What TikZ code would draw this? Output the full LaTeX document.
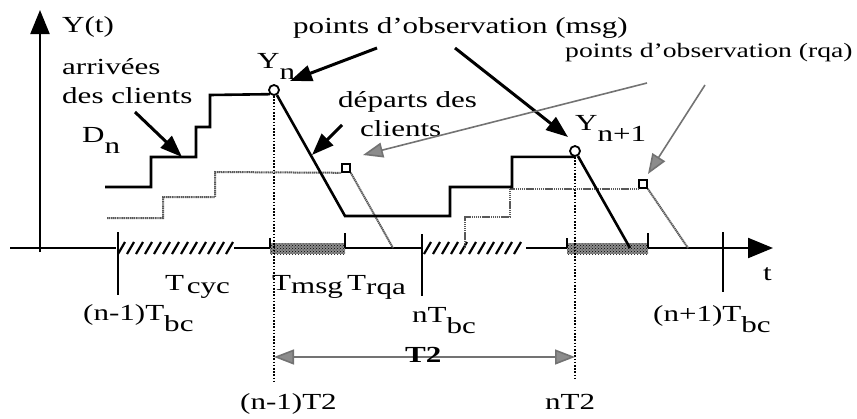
\documentclass[tikz,border=0pt]{standalone}
\usepackage{graphicx}
\usepackage{fontspec}
\setmainfont{Liberation Serif}
\usetikzlibrary{arrows.meta,patterns}
\newcommand\lowr[1]{\raisebox{-11pt}{#1}}
\newcommand\st[1]{\scalebox{1.35}[1]{#1}}
\begin{document}
\begin{tikzpicture}[x=1pt,y=-1pt,
  lbl/.style={inner sep=0pt, anchor=base west, font=\fontsize{23}{29}\selectfont},
  stair/.style={line width=2.6pt, line join=miter},
  gstair/.style={line width=2pt, draw=black!65, dash pattern=on 1.3pt off 0.6pt},
  vdot/.style={line width=1.8pt, dash pattern=on 1.6pt off 1.6pt},
  axis/.style={line width=2.2pt},
  tick/.style={line width=1.8pt},
  bigarrow/.style={line width=3pt, -{Triangle[length=22pt,width=16pt]}},
  garrow/.style={line width=1.6pt, draw=black!55, -{Triangle[length=20pt,width=15pt,fill=black!45]}},
  hatch/.style={line width=2.2pt},
  checker/.style={pattern=crosshatch dots, pattern color=black}
]
\useasboundingbox (0,0) rectangle (857,418);

% axes
\coordinate (yb) at (40,252);
\coordinate (yt) at (40,10);
\coordinate (xl) at (10,248);
\coordinate (xr) at (773,248);
\draw[axis, -{Triangle[length=24pt,width=19pt]}] (yb) -- (yt);
\draw[axis, -{Triangle[length=25pt,width=20pt]}] (xl) -- (xr);

% hatched regions
\fill[white] (116,241) rectangle (234,255);
\foreach \x in {118,127,...,226} \draw[hatch] (\x,254) -- (\x+7,242);
\fill[white] (422,241) rectangle (526,255);
\foreach \x in {424,433,...,516} \draw[hatch] (\x,254) -- (\x+7,242);

% checkered regions
\fill[black!45] (270,243) rectangle (345,254);
\fill[checker] (270,243) rectangle (345,254);
\fill[black!45] (567,243) rectangle (648,254);
\fill[checker] (567,243) rectangle (648,254);

% ticks
\draw[tick] (118,232) -- (118,295);
\draw[tick] (422,234) -- (422,296);
\draw[tick] (723,232) -- (723,292);
\draw[line width=1.2pt] (345,233) -- (345,248);
\draw[line width=1.2pt] (648,233) -- (648,248);
\draw[line width=1.2pt] (270,238) -- (270,248);
\draw[line width=1.2pt] (567,238) -- (567,248);

% observation markers
\node[circle, draw, line width=1.8pt, minimum size=10pt, inner sep=0pt] (c1) at (274,90) {};
\node[circle, draw, line width=1.8pt, minimum size=10pt, inner sep=0pt] (c2) at (575,151) {};
\node[draw, line width=1.6pt, minimum size=8pt, inner sep=0pt] (s1) at (346,168) {};
\node[draw, line width=1.6pt, minimum size=8pt, inner sep=0pt] (s2) at (643,184) {};

% vertical dotted lines
\coordinate (v1) at (274,382);
\coordinate (v2) at (575,380);
\draw[vdot] (c1.south) -- (v1);
\draw[vdot] (c2.south) -- (v2);

% gray staircase (departures / rqa)
\coordinate (d1) at (393,248);
\coordinate (d2) at (465,248);
\coordinate (d3) at (688,248);
\draw[gstair] (107,218) -| (163,197) -| (215,172) -- (s1.south west);
\draw[gstair] (s1.south east) -- (d1);
\draw[gstair] (d2) |- (510,217) |- (s2.south west);
\draw[gstair] (s2.south east) -- (d3);

% solid staircase (arrivals)
\coordinate (e1) at (345,216);
\coordinate (e2) at (630,248);
\draw[stair] (105,187) -| (151,157) -| (196,127) -| (210,95) -- (c1.south west);
\draw[stair] (c1.-60) -- (e1) -- (450,216) |- (512,187) |- (c2.south);
\draw[stair] (c2.-60) -- (e2);

% T2 arrow
\coordinate (T2l) at (274,357);
\coordinate (T2r) at (575,357);
\draw[line width=1.6pt, draw=black!55,
  {Triangle[length=20pt,width=15pt,fill=black!45]}-{Triangle[length=20pt,width=15pt,fill=black!45]}] (T2l) -- (T2r);

% labels
\node[lbl] (Yt) at (62,32) {\st{Y(t)}};
\node[lbl] (arr1) at (62,74) {\st{arrivées}};
\node[lbl] (arr2) at (62,103) {\st{des clients}};
\node[lbl] (Dn) at (82,142) {\st{D\lowr{n}}};
\node[lbl] (Yn) at (257,68) {\st{Y\lowr{n}}};
\node[lbl] (msg) at (293,33) {\st{points d'observation (msg)}};
\node[lbl] (dep1) at (338,107) {\st{départs des}};
\node[lbl] (dep2) at (360,136) {\st{clients}};
\node[lbl] (Yn1) at (575,130) {\st{Y\lowr{n+1}}};
\node[lbl, font=\fontsize{20.5}{25}\selectfont] (rqa) at (565,57) {\st{points d'observation (rqa)}};
\node[lbl] (t) at (763,280) {\st{t}};
\node[lbl] (Tcyc) at (165,290) {\st{T\kern2pt\raisebox{-3pt}{cyc}}};
\node[lbl] (Tmsg) at (272,290) {\st{T\raisebox{-3pt}{msg}}};
\node[lbl] (Trqa) at (347,290) {\st{T\raisebox{-4pt}{rqa}}};
\node[lbl] (nm1Tbc) at (83,320) {\st{(n-1)T\lowr{bc}}};
\node[lbl] (nTbc) at (412,322) {\st{nT\lowr{bc}}};
\node[lbl] (np1Tbc) at (653,321) {\st{(n+1)T\lowr{bc}}};
\node[lbl] (T2) at (405,362) {\st{\bfseries T2}};
\node[lbl] (nm1T2) at (240,409) {\st{(n-1)T2}};
\node[lbl] (nT2) at (545,409) {\st{nT2}};

% arrows
\coordinate (a1s) at (135,112);
\coordinate (a1e) at (182,157);
\coordinate (a2s) at (377,48);
\coordinate (a2e) at (290,81);
\coordinate (a3s) at (455,48);
\coordinate (a3e) at (568,137);
\coordinate (a4s) at (342,125);
\coordinate (a4e) at (312,155);
\coordinate (g1s) at (647,83);
\coordinate (g1e) at (363,155);
\coordinate (g2s) at (705,85);
\coordinate (g2e) at (648,174);
\draw[bigarrow] (a1s) -- (a1e);
\draw[bigarrow] (a2s) -- (a2e);
\draw[bigarrow] (a3s) -- (a3e);
\draw[bigarrow] (a4s) -- (a4e);
\draw[garrow] (g1s) -- (g1e);
\draw[garrow] (g2s) -- (g2e);
\end{tikzpicture}
\end{document}
